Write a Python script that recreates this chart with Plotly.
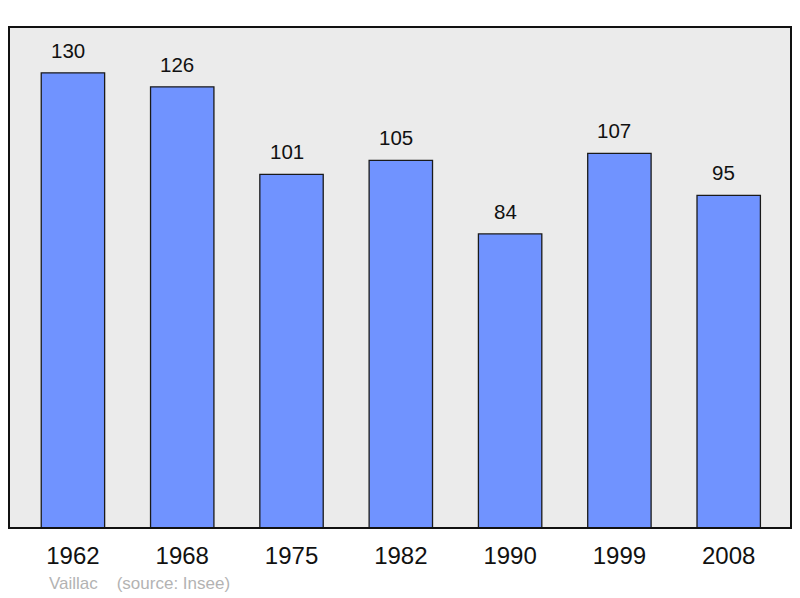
import plotly.graph_objects as go

years = ["1962", "1968", "1975", "1982", "1990", "1999", "2008"]
population = [130, 126, 101, 105, 84, 107, 95]
place = "Vaillac"
source = "(source: Insee)"

FONT = "Liberation Sans, Arial"

fig = go.Figure()
fig.add_trace(go.Bar(
    x=years, y=population, width=0.58,
    marker=dict(color="#7093ff", line=dict(color="#1a1a1a", width=1.3)),
    hoverinfo="skip",
))
for i, v in enumerate(population):
    fig.add_annotation(x=i, y=v, text=str(v), showarrow=False, yanchor="bottom",
                       yshift=9, xshift=-5, font=dict(family=FONT, size=20.5, color="#111"))

fig.add_shape(type="rect", xref="paper", yref="paper", x0=0, x1=1, y0=0, y1=1,
              line=dict(color="#111", width=2), layer="above")

fig.add_annotation(xref="paper", yref="paper", x=0.048, y=-0.11, xanchor="left", yanchor="middle",
                   text=place + "&nbsp;&nbsp;&nbsp;&nbsp;" + source, showarrow=False,
                   font=dict(family=FONT, size=17, color="#b3b3b3"))

fig.update_layout(
    width=792, height=590,
    margin=dict(l=1, r=9, t=19, b=70),
    paper_bgcolor="white", plot_bgcolor="#ebebeb",
    showlegend=False,
    xaxis=dict(type="category", range=[-0.585, 6.57], showgrid=False, zeroline=False, showline=False,
               ticks="", ticklabelstandoff=11, tickfont=dict(family=FONT, size=24, color="#111")),
    yaxis=dict(range=[0, 143.1], showgrid=False, zeroline=False, showticklabels=False, showline=False),
)
fig.write_html("out.html")
